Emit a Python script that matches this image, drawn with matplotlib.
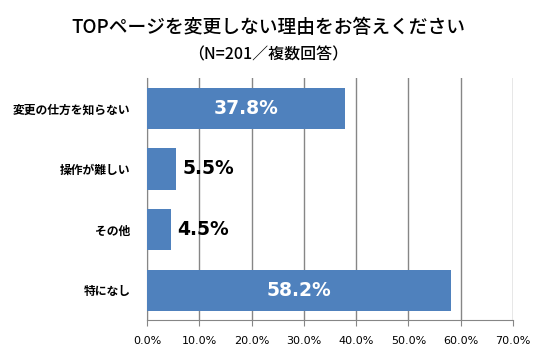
import matplotlib
matplotlib.use("Agg")
import matplotlib.pyplot as plt

plt.rcParams['font.family'] = ['Noto Sans CJK JP', 'DejaVu Sans']

categories = ["変更の仕方を知らない", "操作が難しい", "その他", "特になし"]
values = [37.8, 5.5, 4.5, 58.2]
xticks = [0, 10, 20, 30, 40, 50, 60, 70]
xtick_labels = ["0.0%", "10.0%", "20.0%", "30.0%", "40.0%", "50.0%", "60.0%", "70.0%"]

fig = plt.figure(figsize=(5.42, 3.49), dpi=100)
ax = fig.add_axes([0.2712, 0.0817, 0.6753, 0.6948])

y = list(range(len(categories)))
ax.barh(y, values, height=0.68, color="#4F81BD", zorder=3)
ax.set_ylim(len(categories) - 0.5, -0.5)
ax.set_xlim(0, 70)

for i, v in enumerate(values):
    if v > 20:
        ax.text(v / 2, i, f"{v:.1f}%", color="white", ha="center", va="center",
                fontsize=13.5, fontweight="bold", family="DejaVu Sans", zorder=4)
    else:
        ax.text(v + 1.3, i, f"{v:.1f}%", color="black", ha="left", va="center",
                fontsize=13.5, fontweight="bold", family="DejaVu Sans", zorder=4)

ax.set_yticks(y)
ax.set_yticklabels(categories, fontsize=8.5, fontweight="bold")
ax.tick_params(axis="y", length=0, pad=12)
ax.set_xticks(xticks)
ax.set_xticklabels(xtick_labels, fontsize=8, family="DejaVu Sans")
ax.tick_params(axis="x", length=4, color="#868686", pad=7)

ax.grid(axis="x", color="#868686", linewidth=1, zorder=0)
ax.spines["top"].set_visible(False)
ax.spines["right"].set_visible(False)
ax.spines["left"].set_color("#868686")
ax.spines["bottom"].set_color("#868686")

fig.text(0.495, 0.92, "TOPページを変更しない理由をお答えください", ha="center", va="center",
         fontsize=13.5, fontweight="medium")
fig.text(0.495, 0.842, "（N=201／複数回答）", ha="center", va="center", fontsize=11.5,
         fontweight="medium")

fig.savefig("out.png", dpi=100)
